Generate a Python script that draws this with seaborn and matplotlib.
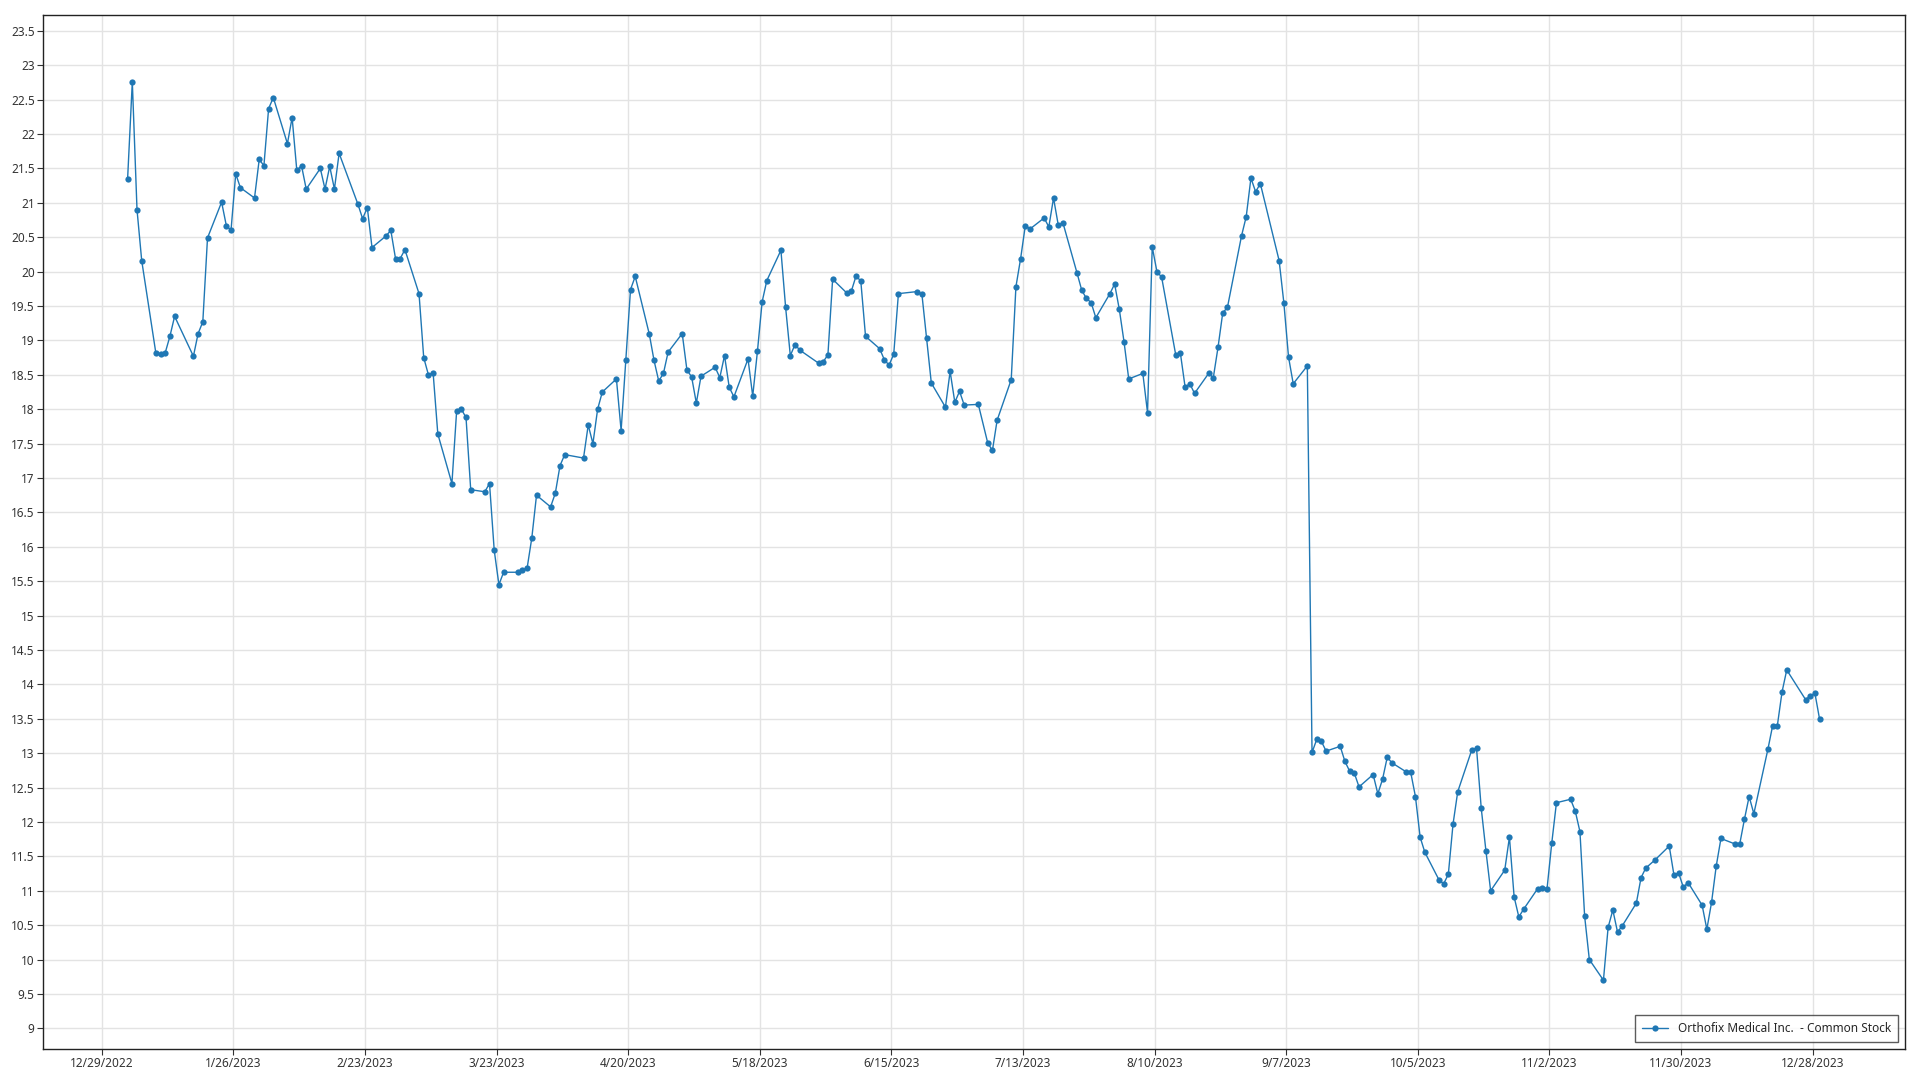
import numpy as np
import pandas as pd
import seaborn as sns
import matplotlib.pyplot as plt
import matplotlib.dates as mdates
from matplotlib.ticker import FuncFormatter

# Closing prices, one list per month (NYSE trading days of 2023)
jan = [21.35, 22.76, 20.90, 20.16, 18.82, 18.80, 18.82, 19.06, 19.35, 18.77,
       19.10, 19.27, 20.49, 21.01, 20.67, 20.60, 21.42, 21.22, 21.07, 21.63]
feb = [21.54, 22.37, 22.53, 21.86, 22.24, 21.47, 21.54, 21.20, 21.50, 21.20,
       21.53, 21.20, 21.72, 20.98, 20.77, 20.93, 20.35, 20.52, 20.60]
mar = [20.19, 20.19, 20.32, 19.68, 18.75, 18.50, 18.53, 17.64, 16.92, 17.97,
       18.00, 17.88, 16.83, 16.80, 16.92, 15.95, 15.45, 15.63, 15.63, 15.66,
       15.69, 16.13, 16.75]
apr = [16.58, 16.78, 17.18, 17.34, 17.29, 17.77, 17.50, 18.00, 18.25, 18.44,
       17.69, 18.72, 19.74, 19.93, 19.09, 18.71, 18.41, 18.52, 18.83]
may = [19.10, 18.57, 18.47, 18.09, 18.48, 18.61, 18.46, 18.78, 18.32, 18.18,
       18.73, 18.19, 18.84, 19.56, 19.87, 20.31, 19.48, 18.78, 18.94, 18.86,
       18.67, 18.69]
jun = [18.79, 19.89, 19.69, 19.72, 19.94, 19.86, 19.06, 18.88, 18.72, 18.64,
       18.80, 19.68, 19.71, 19.67, 19.03, 18.38, 18.03, 18.55, 18.10, 18.26,
       18.06]
jul = [18.07, 17.51, 17.40, 17.84, 18.43, 19.78, 20.19, 20.67, 20.62, 20.78,
       20.65, 21.07, 20.68, 20.71, 19.98, 19.73, 19.61, 19.55, 19.33, 19.68]
aug = [19.82, 19.45, 18.98, 18.44, 18.52, 17.95, 20.36, 20.00, 19.92, 18.79,
       18.81, 18.32, 18.37, 18.23, 18.52, 18.46, 18.90, 19.40, 19.48, 20.52,
       20.80, 21.36, 21.16]
sep = [21.28, 20.16, 19.55, 18.76, 18.37, 18.63, 13.01, 13.20, 13.17, 13.03,
       13.10, 12.88, 12.74, 12.71, 12.51, 12.69, 12.41, 12.62, 12.94, 12.86]
oct_ = [12.73, 12.72, 12.37, 11.78, 11.56, 11.16, 11.10, 11.24, 11.97, 12.44,
        13.05, 13.07, 12.20, 11.58, 11.00, 11.30, 11.78, 10.91, 10.62, 10.73,
        11.03, 11.04]
nov = [11.03, 11.69, 12.28, 12.33, 12.16, 11.86, 10.63, 10.00, 9.70, 10.47,
       10.72, 10.40, 10.49, 10.82, 11.19, 11.33, 11.45, 11.65, 11.23, 11.26,
       11.05]
dec = [11.12, 10.79, 10.44, 10.83, 11.36, 11.76, 11.68, 11.68, 12.04, 12.37,
       12.12, 13.06, 13.40, 13.40, 13.89, 14.21, 13.78, 13.83, 13.87, 13.49]

holidays = ['2023-01-02', '2023-01-16', '2023-02-20', '2023-04-07', '2023-05-29',
            '2023-06-19', '2023-07-04', '2023-09-04', '2023-11-23', '2023-12-25']
series_name = 'Orthofix Medical Inc.  - Common Stock'

prices = jan + feb + mar + apr + may + jun + jul + aug + sep + oct_ + nov + dec
# timestamps sit a little after midnight in the source chart
dates = pd.bdate_range('2023-01-03', '2023-12-29', freq='C', holidays=holidays) + pd.Timedelta(hours=12)
df = pd.DataFrame({'Date': dates, 'Close': prices})

sns.set_style('whitegrid')
plt.rcParams['font.family'] = ['Noto Sans', 'DejaVu Sans']

fig = plt.figure(figsize=(19.2, 10.8), dpi=100)
ax = fig.add_axes([0.0224, 0.0287, 0.9698, 0.9574])

sns.lineplot(data=df, x='Date', y='Close', ax=ax, color='#1f77b4', linewidth=1,
             marker='o', markersize=4.5, markeredgewidth=0, label=series_name)

ax.set_xlim(pd.Timestamp('2022-12-16 12:00'), pd.Timestamp('2024-01-16 16:00'))
ax.set_ylim(8.7, 23.73)

xticks = pd.date_range('2022-12-29', periods=14, freq='28D')
ax.set_xticks(xticks)
ax.xaxis.set_major_formatter(FuncFormatter(
    lambda v, p: f"{mdates.num2date(v).month}/{mdates.num2date(v).day}/{mdates.num2date(v).year}"))
ax.set_yticks(np.arange(9, 23.51, 0.5))
ax.yaxis.set_major_formatter(FuncFormatter(lambda v, p: f"{v:g}"))

ax.grid(True, color='#e3e3e3', linewidth=1)
for s in ax.spines.values():
    s.set_color('#222222')
    s.set_linewidth(1)
ax.tick_params(axis='both', labelsize=8.5, colors='#333333', length=4,
               direction='out', left=True, bottom=True, pad=2)
ax.set_xlabel('')
ax.set_ylabel('')

leg = ax.legend(loc='lower right', fontsize=8.5, frameon=True, fancybox=False,
                edgecolor='#333333', borderpad=0.6, handlelength=2.2,
                borderaxespad=0.6)
leg.get_frame().set_linewidth(1)

fig.savefig('out.png', dpi=100)
